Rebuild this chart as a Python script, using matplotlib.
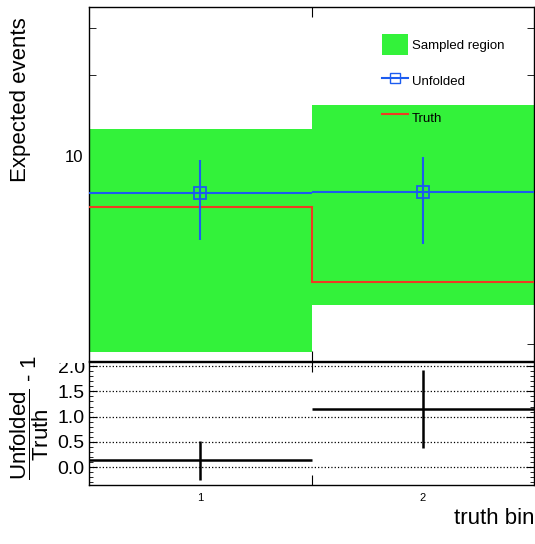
import numpy as np
import matplotlib
matplotlib.use('Agg')
import matplotlib.pyplot as plt
from matplotlib.patches import Patch, Rectangle
from matplotlib.lines import Line2D
from matplotlib.ticker import LogLocator, NullFormatter, FormatStrFormatter, MultipleLocator

plt.rcParams['font.family'] = ['Liberation Sans', 'DejaVu Sans']
plt.rcParams['mathtext.fontset'] = 'custom'
plt.rcParams['mathtext.rm'] = 'Liberation Sans'

# data
bin_edges = [0.5, 1.5, 2.5]
bin_centers = [1, 2]
bin_labels = ['1', '2']
band_lo = [1.87, 2.79]      # sampled region, lower edge
band_hi = [12.6, 15.5]      # sampled region, upper edge
unfolded = [7.28, 7.32]
unfolded_err = [2.4, 2.6]
truth = [6.46, 3.40]
ratio = [0.135, 1.155]      # unfolded/truth - 1
ratio_err = [0.385, 0.775]

green = '#33f23a'
blue = '#1c5cf0'
red = '#ee3b22'

fig = plt.figure(figsize=(5.35, 5.44), dpi=100)
ax1 = fig.add_axes([89/535, 183/544, 445/535, 354/544])
ax2 = fig.add_axes([89/535, 59/544, 445/535, 123/544])

# top pad
lo = np.array(band_lo)
hi = np.array(band_hi)
ax1.bar(bin_centers, hi - lo, bottom=lo, width=1.0, color=green, edgecolor='none', zorder=1)
ax1.stairs(truth, bin_edges, baseline=None, color=red, lw=1.5, zorder=3)
ax1.errorbar(bin_centers, unfolded, xerr=0.5, yerr=unfolded_err, fmt='s', ms=8,
             mfc='none', mec=blue, mew=1.3, color=blue, lw=1.5, zorder=4)
ax1.set_yscale('log')
ax1.set_xlim(0.5, 2.5)
ax1.set_ylim(1.73, 35.8)
ax1.set_axisbelow(True)
ax1.yaxis.set_major_locator(LogLocator(base=10, numticks=10))
ax1.yaxis.set_minor_locator(LogLocator(base=10, subs=np.arange(2, 10), numticks=10))
ax1.yaxis.set_major_formatter(FormatStrFormatter('%g'))
ax1.yaxis.set_minor_formatter(NullFormatter())
ax1.set_xticks([1.5])
ax1.tick_params(which='both', direction='in', top=True, right=True, labelbottom=False)
ax1.tick_params(axis='y', which='major', length=9, labelsize=12, pad=4)
ax1.tick_params(axis='y', which='minor', length=5)
ax1.tick_params(axis='x', which='major', length=7)
for s in ax1.spines.values():
    s.set_linewidth(1.0)

handles = [Patch(facecolor=green, edgecolor='none'),
           Line2D([], [], color=blue, lw=1.5, marker='s', ms=7, mfc='none', mec=blue),
           Line2D([], [], color=red, lw=1.5)]
ax1.legend(handles, ['Sampled region', 'Unfolded', 'Truth'], loc='upper left',
           bbox_to_anchor=(0.631, 0.957), frameon=False, fontsize=9.5,
           handlelength=2.0, handleheight=2.1, handletextpad=0.3, labelspacing=1.15)

# ratio pad
ax2.errorbar(bin_centers, ratio, xerr=0.5, yerr=ratio_err, fmt='none', color='black', lw=1.8)
ax2.set_xlim(0.5, 2.5)
ax2.set_ylim(-0.35, 2.08)
ax2.yaxis.set_major_locator(MultipleLocator(0.5))
ax2.yaxis.set_minor_locator(MultipleLocator(0.1))
ax2.yaxis.set_major_formatter(FormatStrFormatter('%.1f'))
ax2.grid(axis='y', which='major', color='black', linestyle=':', lw=0.9)
ax2.set_xticks([1.5], labels=[''])
ax2.set_xticks(bin_centers, labels=bin_labels, minor=True)
ax2.tick_params(which='both', direction='in', top=True, right=True)
ax2.tick_params(axis='x', which='major', length=7)
ax2.tick_params(axis='x', which='minor', length=0, labelsize=8, pad=6)
ax2.tick_params(axis='y', which='major', length=6, labelsize=14, pad=3)
ax2.tick_params(axis='y', which='minor', length=3)
for s in ax2.spines.values():
    s.set_linewidth(1.0)

# top pad hides the upper part of the "2.0" label, as in the original
fig.add_artist(Rectangle((46/535, 181/544), 42/535, 18/544, transform=fig.transFigure,
                         facecolor='white', edgecolor='none', zorder=5))

fig.text(21/535, 1 - 100/544, 'Expected events', rotation=90, ha='center', va='center', fontsize=16)
fig.text(30/535, 1 - 418/544, r'$\dfrac{\mathrm{Unfolded}}{\mathrm{Truth}}$ - 1', rotation=90,
         ha='center', va='center', fontsize=16)
fig.text(534/535, 1 - 518/544, 'truth bin', ha='right', va='center', fontsize=16)

fig.savefig('out.png', dpi=100)
